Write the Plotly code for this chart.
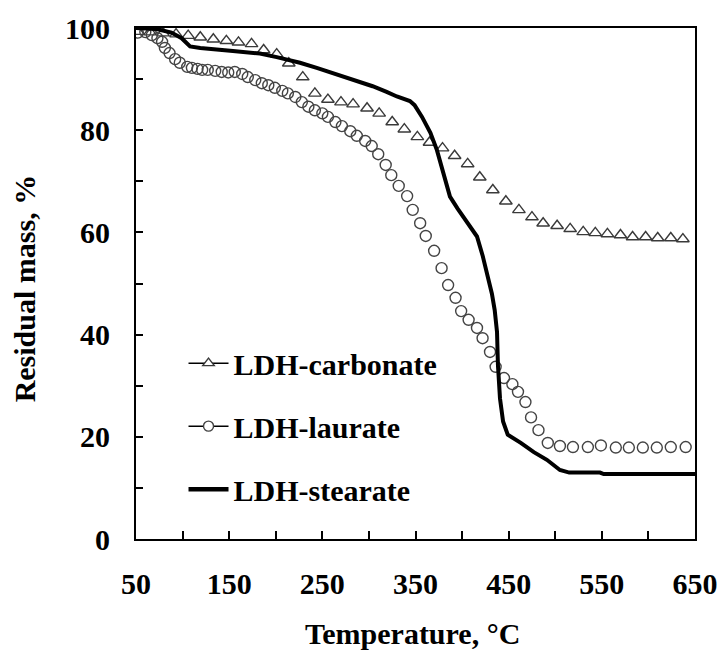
import plotly.graph_objects as go

# ---------------- data ----------------
carb_T = [52, 65, 79, 93, 106, 119, 133, 147, 160, 174, 187, 201, 214, 229, 242, 256, 270, 283,
          298, 311, 325, 338, 352, 365, 379, 392, 406, 419, 433, 447, 461, 475, 487, 502, 516,
          530, 543, 556, 570, 583, 597, 610, 624, 637]
carb_M = [99.3, 99.2, 99.0, 98.8, 98.5, 98.2, 97.8, 97.5, 97.2, 96.9, 95.7, 94.9, 93.1, 90.4, 87.2,
          86.0, 85.5, 85.1, 84.3, 83.3, 81.6, 80.2, 78.7, 77.6, 76.5, 75.0, 73.4, 70.8, 68.3, 66.1,
          64.4, 63.0, 61.8, 61.3, 60.7, 60.1, 59.9, 59.7, 59.5, 59.1, 59.1, 58.9, 58.9, 58.7]

laur_T = [52, 60, 67, 73, 78, 81, 86, 92, 97, 105, 110, 116, 121, 127, 135, 142, 149, 156, 164,
          170, 178, 185, 192, 199, 207, 213, 221, 228, 235, 242, 250, 256, 264, 271, 280, 287,
          296, 303, 310, 318, 324, 332, 341, 347, 355, 361, 370, 378, 385, 393, 399, 407, 416,
          422, 430, 436, 445, 454, 460, 468, 474, 482, 492, 505, 519, 535, 549, 565, 579, 594,
          609, 624, 640]
laur_M = [99.1, 99.2, 98.6, 98.0, 97.3, 96.1, 95.1, 93.9, 93.2, 92.4, 92.2, 92.0, 91.8, 91.8, 91.6,
          91.4, 91.3, 91.4, 91.0, 90.4, 89.8, 89.2, 88.8, 88.3, 87.7, 87.2, 86.5, 85.5, 84.6, 83.9,
          83.3, 82.6, 81.6, 80.8, 79.8, 78.9, 77.9, 76.9, 75.3, 73.2, 71.2, 69.1, 67.1, 64.4, 61.8,
          59.3, 56.4, 53.0, 49.7, 47.2, 44.6, 42.9, 41.3, 39.3, 36.6, 33.7, 31.5, 30.3, 28.8, 26.8,
          23.8, 21.3, 18.8, 18.2, 18.0, 18.0, 18.3, 17.9, 17.9, 17.9, 17.9, 18.0, 18.0]

stea_T = [50, 72, 88, 99, 108, 119, 154, 183, 201, 215, 226, 244, 261, 276, 290, 304, 319, 330,
          344, 349, 357, 366, 373, 380, 387, 395, 405, 416, 422, 428, 432, 435, 437.5, 438.5,
          440.7, 444, 449, 463, 477, 491, 505, 515, 548, 552, 650]
stea_M = [100, 99.8, 99.1, 98.0, 96.4, 96.1, 95.5, 95.0, 94.3, 93.7, 93.2, 92.2, 91.2, 90.4, 89.4,
          88.6, 87.5, 86.6, 85.7, 84.9, 82.6, 79.5, 76.1, 71.6, 67.0, 64.7, 62.2, 59.2, 55.5, 51.0,
          48.0, 44.8, 40.5, 34.0, 27.5, 23.0, 20.4, 18.8, 17.0, 15.5, 13.5, 13.0, 13.0, 12.7, 12.7]

names = ["LDH-carbonate", "LDH-laurate", "LDH-stearate"]

x_ticks = list(range(50, 651, 50))
x_labels = [str(v) if (v - 50) % 100 == 0 else "" for v in x_ticks]
y_ticks = list(range(0, 101, 10))
y_labels = [str(v) if v % 20 == 0 else "" for v in y_ticks]

FONT = "Liberation Serif"

fig = go.Figure()

fig.add_trace(go.Scatter(x=carb_T, y=carb_M, mode="markers", showlegend=False,
                         marker=dict(symbol="triangle-up-open", size=11, color="#3a3a3a",
                                     line=dict(width=1.4, color="#3a3a3a"))))
fig.add_trace(go.Scatter(x=laur_T, y=laur_M, mode="markers", showlegend=False,
                         marker=dict(symbol="circle-open", size=11, color="#444444",
                                     line=dict(width=1.4, color="#444444"))))
fig.add_trace(go.Scatter(x=stea_T, y=stea_M, mode="lines", showlegend=False,
                         line=dict(color="black", width=4)))

# legend entries
fig.add_trace(go.Scatter(x=[None], y=[None], mode="lines+markers", name=names[0], legendgroup="a",
                         line=dict(color="black", width=1.5),
                         marker=dict(symbol="triangle-up", size=10, color="white",
                                     line=dict(width=1.4, color="#3a3a3a"))))
fig.add_trace(go.Scatter(x=[None], y=[None], mode="lines+markers", name=names[1], legendgroup="b",
                         line=dict(color="black", width=1.5),
                         marker=dict(symbol="circle", size=10, color="white",
                                     line=dict(width=1.4, color="#444444"))))
fig.add_trace(go.Scatter(x=[None], y=[None], mode="lines", name=names[2], legendgroup="c",
                         line=dict(color="black", width=4.5)))

fig.update_layout(
    width=719, height=653,
    margin=dict(l=136, r=24, t=28, b=114),
    paper_bgcolor="white", plot_bgcolor="white",
    font=dict(family=FONT, size=30, color="black", weight="bold"),
    showlegend=True,
    legend=dict(x=0.085, y=0.395, xanchor="left", yanchor="top",
                bgcolor="rgba(0,0,0,0)", borderwidth=0, traceorder="grouped",
                font=dict(family=FONT, size=30, color="black", weight="bold"),
                tracegroupgap=21, itemwidth=40),
    xaxis=dict(range=[50, 650], tickvals=x_ticks, ticktext=x_labels,
               ticks="inside", ticklen=8, tickwidth=2, tickcolor="black",
               showline=True, linewidth=2, linecolor="black", mirror=True,
               showgrid=False, zeroline=False, ticklabelstandoff=17, automargin=False),
    yaxis=dict(range=[0, 100], tickvals=y_ticks, ticktext=y_labels,
               ticks="inside", ticklen=7, tickwidth=2, tickcolor="black",
               showline=True, linewidth=2, linecolor="black", mirror=True,
               showgrid=False, zeroline=False, ticklabelstandoff=18, automargin=False),
    annotations=[
        dict(text="Residual mass, %", textangle=-90, xref="paper", yref="paper",
             x=-0.199, y=0.49, xanchor="center", yanchor="middle", showarrow=False,
             font=dict(family=FONT, size=30, color="black", weight="bold")),
        dict(text="Temperature, °C", xref="paper", yref="paper",
             x=0.495, y=-0.184, xanchor="center", yanchor="middle", showarrow=False,
             font=dict(family=FONT, size=30, color="black", weight="bold")),
    ],
)

fig.write_html("out.html")
